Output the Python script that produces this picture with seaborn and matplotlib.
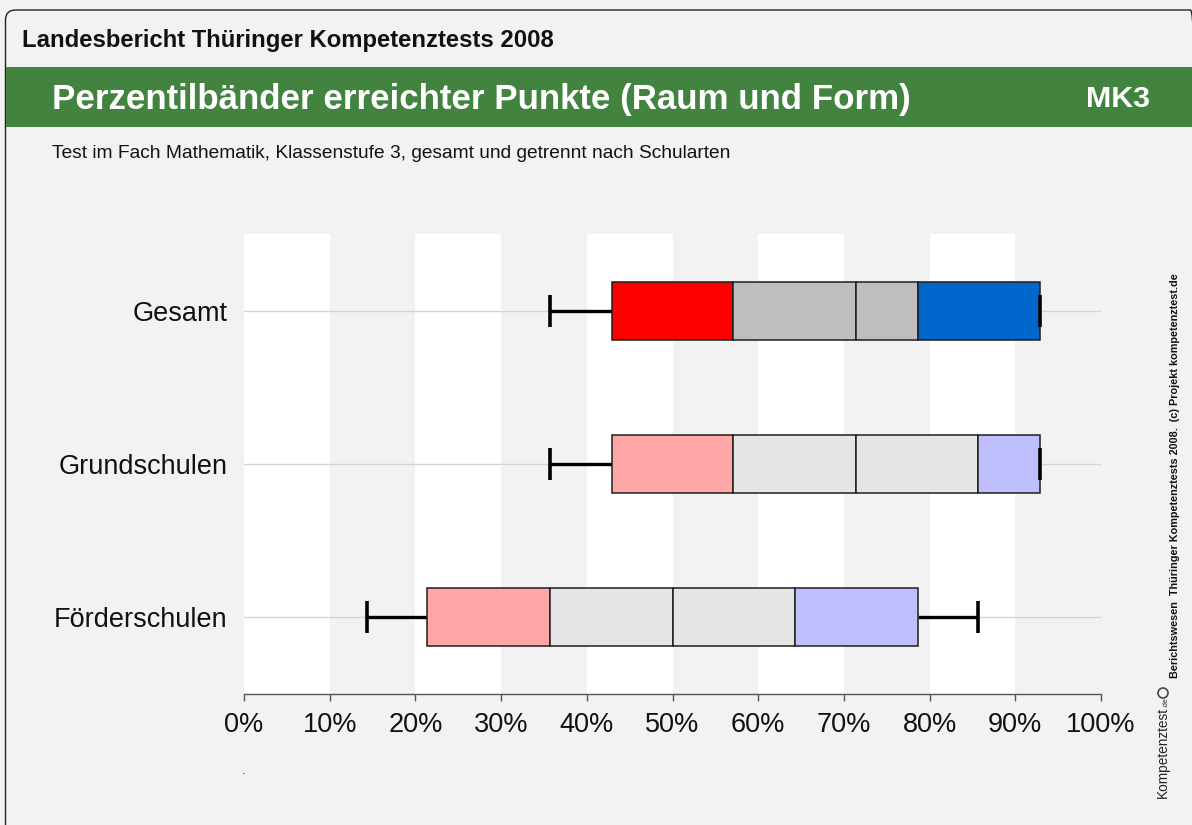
import numpy as np
import pandas as pd
import matplotlib
matplotlib.use("Agg")
import matplotlib.pyplot as plt
import seaborn as sns
from matplotlib.patches import FancyBboxPatch, Rectangle, Circle
from matplotlib.transforms import IdentityTransform

# ---------------- data ----------------
categories = ["Gesamt", "Grundschulen", "Förderschulen"]
p05 = [35.7, 35.7, 14.3]
p10 = [42.9, 42.9, 21.4]
p25 = [57.1, 57.1, 35.7]
p50 = [71.4, 71.4, 50.0]
p75 = [78.6, 85.7, 64.3]
p90 = [92.9, 92.9, 78.6]
p95 = [92.9, 92.9, 85.7]
xtick_values = [0, 10, 20, 30, 40, 50, 60, 70, 80, 90, 100]
xtick_labels = ["0%", "10%", "20%", "30%", "40%", "50%", "60%", "70%", "80%", "90%", "100%"]

header = "Landesbericht Thüringer Kompetenztests 2008"
title = "Perzentilbänder erreichter Punkte (Raum und Form)"
code = "MK3"
subtitle = "Test im Fach Mathematik, Klassenstufe 3, gesamt und getrennt nach Schularten"
side_note = "Berichtswesen  Thüringer Kompetenztests 2008.  (c) Projekt kompetenztest.de"

df = pd.DataFrame({"cat": categories, "p05": p05, "p10": p10, "p25": p25,
                   "p50": p50, "p75": p75, "p90": p90, "p95": p95})

seg_colors_strong = ["#ff0000", "#bebebe", "#bebebe", "#0066cc"]
seg_colors_light = ["#ffa6a6", "#e5e5e5", "#e5e5e5", "#bfbfff"]

BG = "#f2f2f2"
sns.set_theme(style="white", rc={"axes.facecolor": BG, "figure.facecolor": BG})
plt.rcParams["font.family"] = ["Liberation Sans", "DejaVu Sans"]

W, H = 1192, 825
fig = plt.figure(figsize=(W / 100, H / 100), dpi=100)
fig.patch.set_facecolor(BG)

# border with rounded top-left corner (right edge falls beyond the image edge)
border = FancyBboxPatch((5.5, -30), 1195, 845, boxstyle="round,pad=0,rounding_size=10",
                        transform=IdentityTransform(), facecolor="none",
                        edgecolor="#222222", lw=1.0)
fig.add_artist(border)

# green title band
fig.add_artist(Rectangle((6 / W, 1 - 127 / H), (W - 6) / W, 60 / H,
                         transform=fig.transFigure, facecolor="#42833f",
                         edgecolor="none"))

def fig_text(x_px, y_px, s, target_w=None, **kw):
    t = fig.text(x_px / W, 1 - y_px / H, s, **kw)
    if target_w is not None:
        r = fig.canvas.get_renderer()
        bb = t.get_window_extent(r)
        length = bb.height if kw.get("rotation", 0) == 90 else bb.width
        t.set_fontsize(t.get_fontsize() * target_w / length)
    return t

fig_text(22, 41, header, target_w=531, fontsize=13, fontweight="bold",
         color="#111111", va="center", ha="left")
fig_text(52, 99, title, target_w=858, fontsize=22, fontweight="bold",
         color="white", va="center", ha="left")
fig_text(1150, 99, code, target_w=64, fontsize=22, fontweight="bold",
         color="white", va="center", ha="right")
fig_text(52, 154, subtitle, target_w=677, fontsize=11, color="#111111",
         va="center", ha="left")
fig_text(1175, 476, side_note, target_w=408, fontsize=8, fontweight="bold",
         rotation=90, color="#111111", va="center", ha="center")
fig_text(1163, 798, "Kompetenztest", target_w=90, fontsize=11, rotation=90,
         color="#222222", va="bottom", ha="center")
fig_text(1166, 707, ".de", fontsize=5, rotation=90, color="#222222",
         va="bottom", ha="center")
fig.add_artist(Circle((1163, 825 - 693), 5, transform=IdentityTransform(),
                      facecolor="none", edgecolor="#444444", lw=1.2))
fig_text(244, 771, ".", fontsize=9, color="#111111", va="center", ha="center")

# ---------------- axes ----------------
ax = fig.add_axes([244 / W, 1 - 694 / H, 857 / W, 460 / H])
ax.set_facecolor(BG)

for s in range(0, 100, 20):
    ax.axvspan(s, s + 10, color="white", zorder=0, lw=0)

ypos = np.arange(len(categories))
for y in ypos:
    ax.axhline(y, color="#d4d4d4", lw=1.0, zorder=1)

box_h = 0.377
cap_h = 0.105
for i, row in df.iterrows():
    y = ypos[i]
    cols = seg_colors_strong if i == 0 else seg_colors_light
    edges = [row.p10, row.p25, row.p50, row.p75, row.p90]
    # whiskers
    ax.hlines(y, row.p05, row.p10, color="black", lw=2.4, zorder=2)
    ax.hlines(y, row.p90, row.p95, color="black", lw=2.4, zorder=2)
    for k in range(4):
        ax.barh(y, edges[k + 1] - edges[k], left=edges[k], height=box_h,
                color=cols[k], edgecolor="#1e1e1e", lw=1.1, zorder=3)
    ax.vlines([row.p05, row.p95], y - cap_h, y + cap_h, color="black",
              lw=2.6, zorder=4)

ax.set_xlim(0, 100)
ax.set_ylim(2.5, -0.5)
ax.set_yticks(ypos)
ax.set_yticklabels(categories)
ax.set_xticks(xtick_values)
ax.set_xticklabels(xtick_labels)
ax.tick_params(axis="y", length=0, pad=12, labelsize=19.5, labelcolor="#111111")
ax.tick_params(axis="x", length=5, width=1, color="#555555", direction="out",
               pad=8, labelsize=19.5, labelcolor="#111111", bottom=True)
sns.despine(ax=ax, left=True, top=True, right=True)
ax.spines["bottom"].set_color("#555555")
ax.spines["bottom"].set_linewidth(1.0)

fig.savefig("out.png", dpi=100, facecolor=BG)
